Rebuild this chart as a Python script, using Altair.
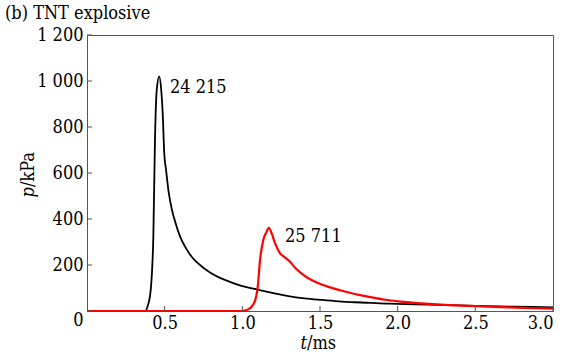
import altair as alt
import pandas as pd

# ---- data ----
t_black = [0.0, 0.35, 0.373, 0.39, 0.41, 0.427, 0.438, 0.449, 0.465, 0.478, 0.488,
           0.497, 0.509, 0.525, 0.545, 0.575, 0.60, 0.64, 0.674, 0.71, 0.749, 0.80,
           0.856, 0.92, 0.964, 1.02, 1.093, 1.20, 1.296, 1.40, 1.51, 1.62, 1.726,
           1.83, 1.94, 2.0, 2.11, 2.3, 2.5, 2.75, 3.0]
p_black = [0, 0, 0, 20, 91, 323, 758, 961, 1020, 960, 850,
           690, 613, 520, 445, 372, 322, 270, 236, 210, 188, 164,
           144, 127, 116, 105, 94, 78, 65, 55, 48, 42, 38,
           35, 32, 31, 29, 26, 22, 19, 16]

t_red = [0.0, 1.0, 1.017, 1.05, 1.082, 1.10, 1.114, 1.135, 1.157, 1.17, 1.19,
         1.211, 1.243, 1.27, 1.307, 1.34, 1.38, 1.43, 1.49, 1.56, 1.66,
         1.75, 1.833, 1.92, 2.005, 2.11, 2.3, 2.5, 2.75, 3.0]
p_red = [0, 0, 2, 12, 45, 110, 222, 309, 345, 362, 335,
         294, 251, 235, 214, 188, 164, 140, 121, 104, 85,
         70, 59, 49, 42, 35, 27, 21, 15, 10]

x_ticks = [0.5, 1.0, 1.5, 2.0, 2.5, 3.0]
y_ticks = [0, 200, 400, 600, 800, 1000, 1200]

ann_t = [0.534, 1.275]
ann_p = [968, 322]
ann_text = ["24 215", "25 711"]

title_text = "(b) TNT explosive"

FONT = "DejaVu Serif Condensed, DejaVu Serif"
FS = 18
AX = "#555555"

W, H = 466, 276

df_black = pd.DataFrame({"t": t_black, "p": p_black})
df_red = pd.DataFrame({"t": t_red, "p": p_red})
df_xt = pd.DataFrame({"t": x_ticks})
df_yt = pd.DataFrame({"p": y_ticks})
df_ann = pd.DataFrame({"t": ann_t, "p": ann_p, "label": ann_text})

x_axis = alt.Axis(values=x_ticks, format=".1f", ticks=False, grid=False, title=None,
                  labelFont=FONT, labelFontSize=FS, labelColor="black",
                  labelPadding=3, domainColor=AX, domainWidth=1)
y_axis = alt.Axis(values=y_ticks, ticks=False, grid=False, title=None,
                  labelExpr="replace(format(datum.value, ','), ',', ' ')",
                  labelFont=FONT, labelFontSize=FS, labelColor="black",
                  labelPadding=4, domainColor=AX, domainWidth=1,
                  labelBaseline={"condition": {"test": "datum.value == 0", "value": "top"},
                                 "value": "middle"})
xs = alt.Scale(domain=[0, 3], nice=False, zero=False)
ys = alt.Scale(domain=[0, 1200], nice=False)

X = alt.X("t:Q", scale=xs, axis=x_axis)
Y = alt.Y("p:Q", scale=ys, axis=y_axis)

black = alt.Chart(df_black).mark_line(color="black", strokeWidth=1.8,
                                      interpolate="monotone").encode(x=X, y=Y)
red = alt.Chart(df_red).mark_line(color="#ff0000", strokeWidth=2.2,
                                  interpolate="monotone").encode(x=X, y=Y)

xt = alt.Chart(df_xt).mark_rule(color=AX, strokeWidth=1).encode(
    x=X, y=alt.value(H), y2=alt.value(H - 5))
yt = alt.Chart(df_yt).mark_rule(color=AX, strokeWidth=1).encode(
    y=Y, x=alt.value(0), x2=alt.value(5))

ann = alt.Chart(df_ann).mark_text(align="left", baseline="middle", font=FONT,
                                  fontSize=FS, color="black").encode(
    x=X, y=Y, text="label:N")

def free_text(txt, x, y, font=FONT, **kw):
    return alt.Chart(pd.DataFrame({"s": [txt]})).mark_text(
        font=font, fontSize=FS, color="black", **kw).encode(
        x=alt.value(x), y=alt.value(y), text="s:N")

title = free_text(title_text, -82, -21, align="left", baseline="middle")
xt_t = free_text("t", 220, 314, align="right", baseline="alphabetic", fontStyle="italic")
xt_ms = free_text("/ms", 220, 314, align="left", baseline="alphabetic")
yt_p = free_text("p", -53, 152, align="right", baseline="alphabetic", angle=270,
                 fontStyle="italic")
yt_k = free_text("/kPa", -53, 152, align="left", baseline="alphabetic", angle=270)

chart = alt.layer(black, red, xt, yt, ann, title, xt_t, xt_ms, yt_p, yt_k).properties(
    width=W, height=H,
    autosize=alt.AutoSizeParams(type="none"),
    padding={"left": 87, "top": 35, "right": 29, "bottom": 41},
).configure_view(stroke=AX, strokeWidth=1)

chart.save("out.html", embed_options={"renderer": "svg", "actions": False})
